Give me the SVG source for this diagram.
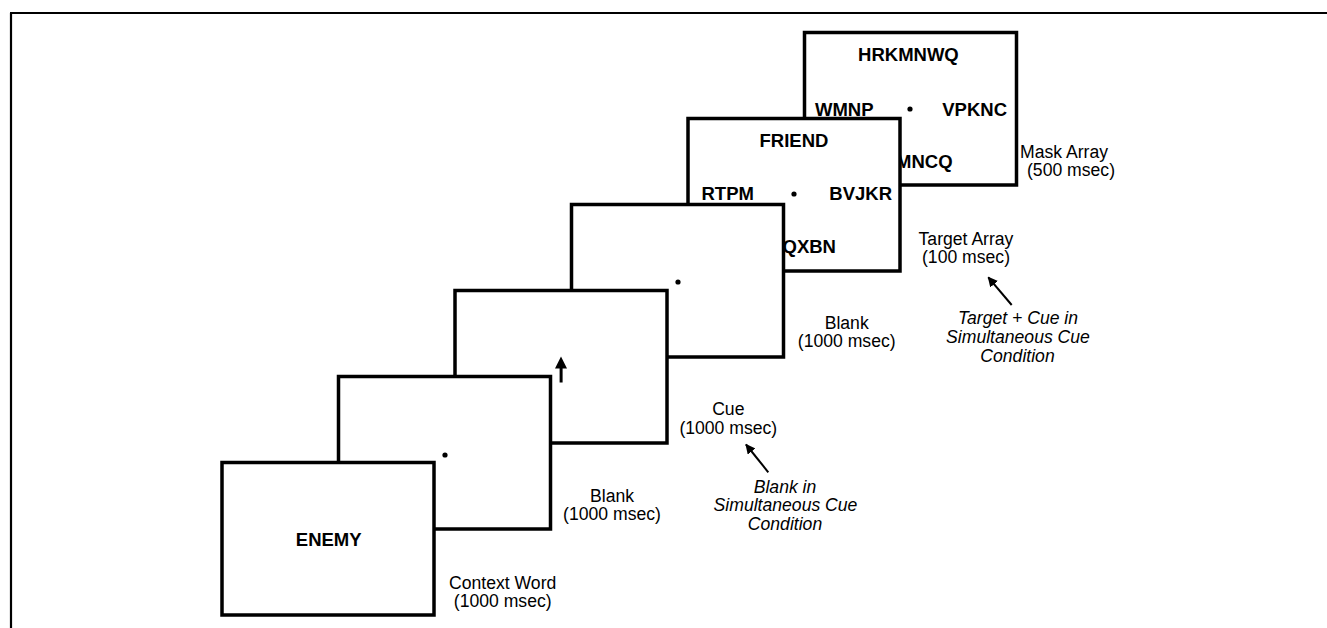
<svg xmlns="http://www.w3.org/2000/svg" width="1327" height="628" viewBox="0 0 1327 628">
<style>
.frame{fill:#fff;stroke:#000;stroke-width:3.5}
.bt{font-family:"Liberation Sans",Arial,sans-serif;font-weight:bold;font-size:18.5px;fill:#000}
.lb{font-family:"Liberation Sans",Arial,sans-serif;font-size:17.6px;fill:#000;text-anchor:middle}
.it{font-family:"Liberation Sans",Arial,sans-serif;font-style:italic;font-size:17.6px;fill:#000;text-anchor:middle}
.dot{fill:#000}
.conn{stroke:#000;stroke-width:2;fill:none}
</style>
<defs>
<marker id="ah" viewBox="0 0 10 10" refX="9" refY="5" markerWidth="5" markerHeight="5" orient="auto" markerUnits="strokeWidth">
<path d="M0,0 L10,5 L0,10 Z" fill="#000"/>
</marker>
</defs>
<rect width="1327" height="628" fill="#fff"/>
<path d="M10,13 H1327 M11,13 V628" stroke="#000" stroke-width="2.2" fill="none"/>

<g id="mask-array">
<rect class="frame" x="804.5" y="32.5" width="212" height="152.5"/>
<text class="bt" x="908.4" y="61" text-anchor="middle">HRKMNWQ</text>
<text class="bt" x="815" y="115.7">WMNP</text>
<circle class="dot" cx="910" cy="109" r="2.6"/>
<text class="bt" x="1007" y="115.7" text-anchor="end">VPKNC</text>
<text class="bt" x="896" y="168">MNCQ</text>
</g>
<g id="target-array">
<rect class="frame" x="688" y="118.5" width="212" height="152.5"/>
<text class="bt" x="794" y="146.7" text-anchor="middle">FRIEND</text>
<text class="bt" x="701.5" y="200">RTPM</text>
<circle class="dot" cx="794" cy="194" r="2.6"/>
<text class="bt" x="892" y="200" text-anchor="end">BVJKR</text>
<text class="bt" x="782.5" y="253">QXBN</text>
</g>
<g id="blank2">
<rect class="frame" x="571.5" y="204.5" width="212" height="152.5"/>
<circle class="dot" cx="678" cy="282" r="2.6"/>
</g>
<g id="cue">
<rect class="frame" x="455" y="290.5" width="212" height="152.5"/>
<rect x="559.6" y="366" width="3" height="16.5" fill="#000"/>
<polygon points="561,356.5 555,368.5 567,368.5" fill="#000"/>
</g>
<g id="blank1">
<rect class="frame" x="338.5" y="376.5" width="212" height="152.5"/>
<circle class="dot" cx="445" cy="455" r="2.6"/>
</g>
<g id="context-word">
<rect class="frame" x="222" y="462.5" width="212" height="152.5"/>
<text class="bt" x="328.7" y="545.7" text-anchor="middle">ENEMY</text>
</g>

<g id="labels">
<text class="lb" x="502.7" y="588.5">Context Word</text>
<text class="lb" x="502.7" y="607">(1000 msec)</text>
<text class="lb" x="612" y="501.5">Blank</text>
<text class="lb" x="612" y="520">(1000 msec)</text>
<text class="lb" x="728.3" y="415">Cue</text>
<text class="lb" x="728.3" y="433.5">(1000 msec)</text>
<text class="lb" x="846.7" y="328.5">Blank</text>
<text class="lb" x="846.7" y="347">(1000 msec)</text>
<text class="lb" x="966" y="244.5">Target Array</text>
<text class="lb" x="966" y="263">(100 msec)</text>
<text class="lb" x="1064" y="157.5">Mask Array</text>
<text class="lb" x="1071" y="176">(500 msec)</text>
</g>
<g id="notes">
<text class="it" x="785" y="492.5">Blank in</text>
<text class="it" x="785.5" y="511.3">Simultaneous Cue</text>
<text class="it" x="785" y="530.2">Condition</text>
<text class="it" x="1018" y="323.5">Target + Cue in</text>
<text class="it" x="1018" y="342.5">Simultaneous Cue</text>
<text class="it" x="1017.5" y="361.5">Condition</text>
</g>

<g id="connectors">
<line class="conn" x1="768.3" y1="472.3" x2="746" y2="444.5" marker-end="url(#ah)"/>
<line class="conn" x1="1011.7" y1="305" x2="988.3" y2="277.3" marker-end="url(#ah)"/>
</g>
</svg>
